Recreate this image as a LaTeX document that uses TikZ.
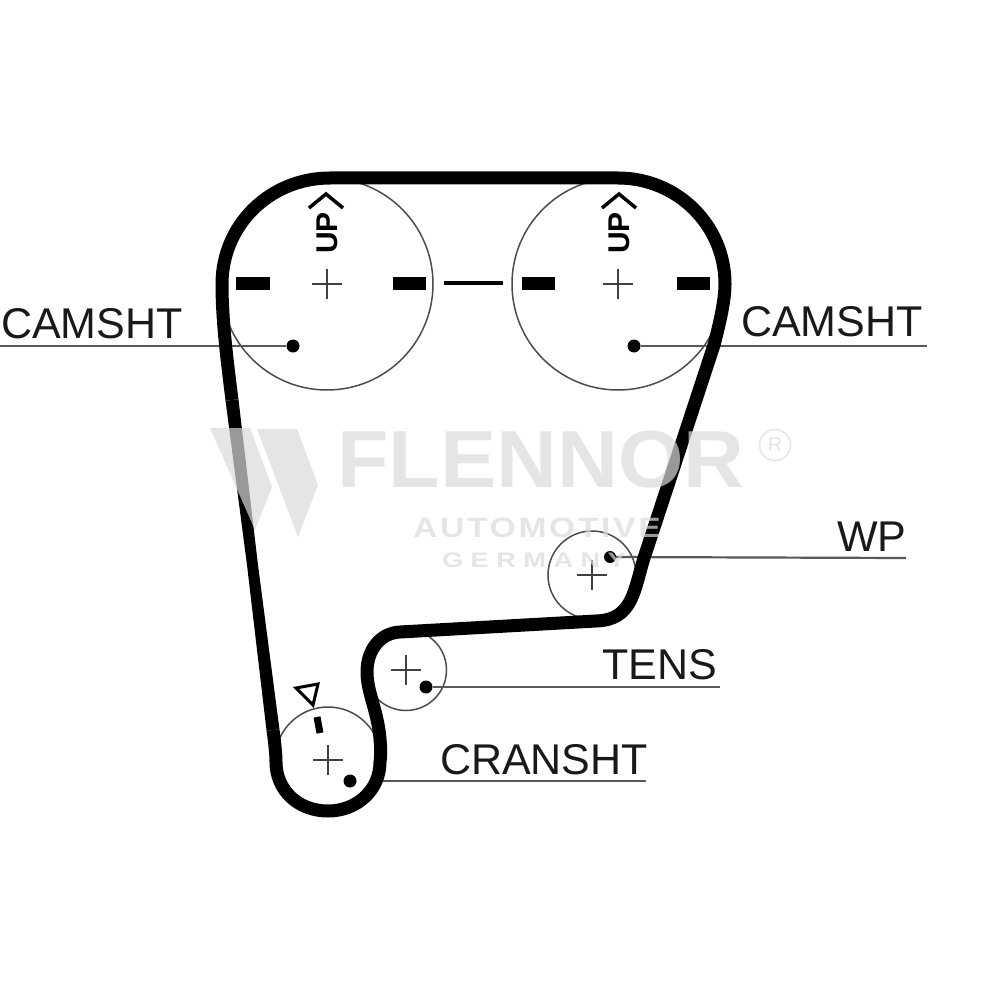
\documentclass[tikz,border=0pt]{standalone}
\usepackage{fontspec}
\setmainfont{Liberation Sans}
\newfontfamily\wmA[LetterSpace=8]{Liberation Sans}
\newfontfamily\wmB[LetterSpace=27]{Liberation Sans}
\begin{document}
\begin{tikzpicture}[x=1pt,y=-1pt,
  pulley/.style={circle,draw=black!70,line width=1.5pt,inner sep=0pt,minimum size=#1},
  dotm/.style={circle,fill=black,inner sep=0pt,minimum size=13pt},
  leader/.style={draw=black!65,line width=2.2pt},
  belt/.style={line width=13pt,line join=round,black},
  lab/.style={font=\fontsize{43}{43}\selectfont,text=black!90,inner sep=0pt},
  uplab/.style={font=\fontsize{30}{30}\selectfont\bfseries,rotate=90,inner sep=0pt},
  crossm/.style={black!75,line width=1.5pt},
  slot/.style={line width=13pt,black},
  wm/.style={fill=black!14,opacity=0.7},
  wmt/.style={text=black!14,text opacity=0.7,inner sep=0pt}]
\useasboundingbox[fill=white] (0,0) rectangle (1000,1000);
% pulleys
\node[pulley=212pt] (camL) at (327,284) {};
\node[pulley=212pt] (camR) at (618,284) {};
\node[pulley=88pt] (wp) at (592,575) {};
\node[pulley=81pt] (tens) at (406,670) {};
\node[pulley=106pt] (crank) at (328,760) {};
% centre crosses
\foreach \n in {camL,camR,tens,crank,wp}{
  \draw[crossm] ([xshift=-15pt]\n.center) -- ([xshift=15pt]\n.center);
  \draw[crossm] ([yshift=-15pt]\n.center) -- ([yshift=15pt]\n.center);
}
% leaders and dots
\node[dotm] (dL) at (293,346) {};
\node[dotm] (dR) at (634,346) {};
\node[dotm,minimum size=12pt] (dW) at (610,557) {};
\node[dotm] (dT) at (426,687) {};
\node[dotm] (dC) at (350,781) {};
\coordinate (eL) at (0,346);
\coordinate (eR) at (927,346);
\coordinate (eW) at (906,558);
\coordinate (eT) at (720,687);
\coordinate (eC) at (646,781);
\coordinate (sC) at (382,781);
\draw[leader] (dL) -- (eL);
\draw[leader] (dR) -- (eR);
\draw[leader] (dW) -- (eW);
\draw[leader] (dT) -- (eT);
\draw[leader] (sC) -- (eC);
% marks
\draw[slot] (236,283) -- (270,283);
\draw[slot] (393,283) -- (426,283);
\draw[slot] (522,283) -- (555,283);
\draw[slot] (677,283) -- (710,283);
\draw[line width=4pt] (444,283) -- (503,283);
\node[uplab] (upL) at (327,233) {UP};
\node[uplab] (upR) at (619,233) {UP};
\draw[line width=3.5pt] (309,208) -- (326,194) -- (343,208);
\draw[line width=3.5pt] (602,208) -- (619,194) -- (636,208);
\draw[line width=3pt,line join=miter] (296,688) -- (318,684) -- (313,705) -- cycle;
\draw[line width=7pt] (317,717) -- (320,733);
% belt
\draw[belt] (232,400)
  .. controls (227,360) and (222,320) .. (222,284)
  .. controls (222,225) and (270,178) .. (330,178)
  -- (618,178)
  .. controls (677,178) and (725,225) .. (725,284)
  .. controls (725,300) and (720,322) .. (714,345)
  -- (644,558)
  .. controls (634,590) and (633,620) .. (596,621)
  -- (400,632)
  .. controls (380,633) and (367,650) .. (367,672)
  .. controls (367,690) and (375,705) .. (379,730)
  .. controls (381,745) and (381,755) .. (380,762)
  .. controls (380,790) and (357,811) .. (328,811)
  .. controls (298,811) and (276,790) .. (276,762)
  .. controls (276,755) and (275,745) .. (273,730);
\fill[black] (225.55,400.8) -- (238.45,399.2) -- (258,565) -- (279.45,729.2) -- (266.55,730.8) -- (247,565) -- cycle;
% labels
\node[lab] (t1) at (92,324) {CAMSHT};
\node[lab] (t2) at (832,322) {CAMSHT};
\node[lab] (t3) at (872,537) {WP};
\node[lab] (t4) at (660,665) {TENS};
\node[lab] (t5) at (544,760) {CRANSHT};
% watermark
\fill[wm] (210,428) -- (250,428) -- (272,487) -- (255,530) -- cycle;
\fill[wm] (257,429) -- (297,429) -- (318,485) -- (298,537) -- cycle;
\node[wmt,xscale=1.04,font=\fontsize{81}{81}\selectfont\bfseries] (w1) at (541,460) {FLENNOR};
\node[wmt,xscale=1.2,font=\fontsize{28}{28}\selectfont\bfseries\wmA] (w2) at (537,528) {AUTOMOTIVE};
\node[wmt,xscale=1.3,font=\fontsize{21}{21}\selectfont\bfseries\wmB] (w3) at (534,560) {GERMANY};
\node[circle,draw=black!14,draw opacity=0.7,line width=1.5pt,inner sep=0pt,minimum size=31pt,wmt,font=\fontsize{20}{20}\selectfont] (w4) at (775,445) {R};
\end{tikzpicture}
\end{document}
